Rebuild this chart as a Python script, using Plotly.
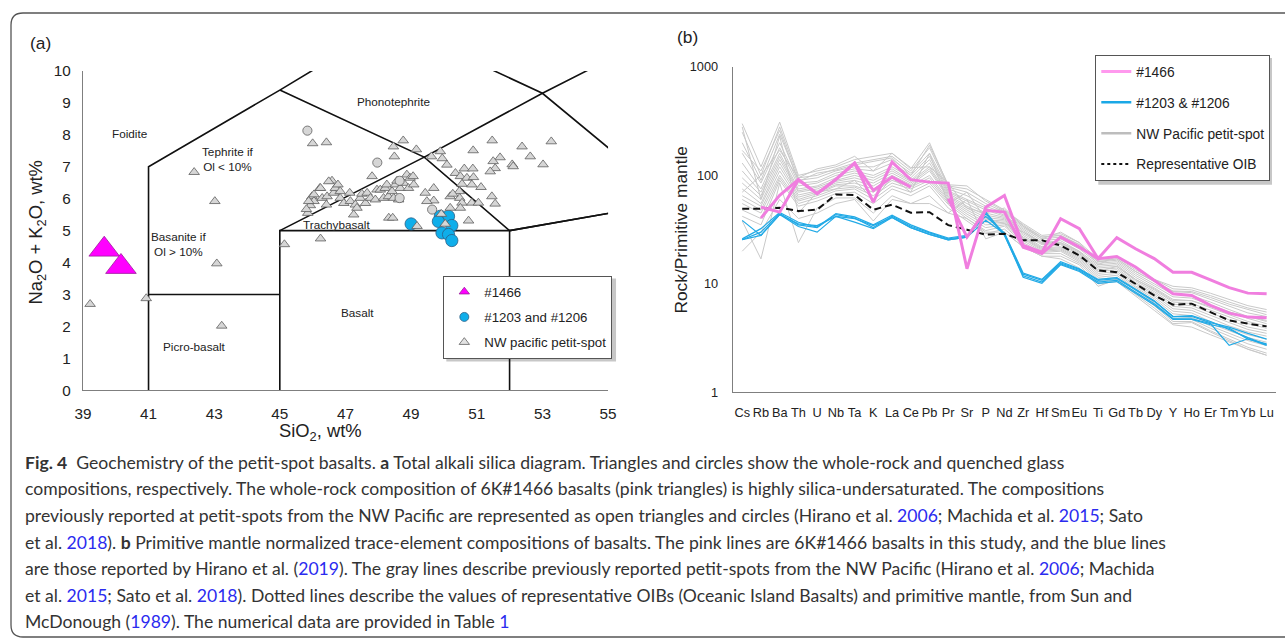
import plotly.graph_objects as go

# The photographed page is shown shrunk into an 8 px white border; lay out in target pixels.
PAGE_W, PAGE_H = 1285, 639
OFF = 8
IW, IH = PAGE_W - 2 * OFF, PAGE_H - 2 * OFF
def px(x): return (x - OFF) / IW
def py(y): return 1 - (y - OFF) / IH
K = 1.02
def fs(s): return round(s * K, 2)

FONT = "Liberation Sans, Arial, sans-serif"

# ---------------- Panel (a): TAS diagram data ----------------
sio2_1466 = [39.65, 40.16]
alk_1466 = [4.41, 3.87]

sio2_glass = [49.00, 49.89, 50.14, 49.83, 50.24, 49.94, 50.14, 50.24]
alk_glass = [5.21, 5.45, 5.45, 5.29, 5.16, 4.93, 4.88, 4.69]

sio2_nw_tri = [39.22, 40.93, 43.08, 43.23, 43.02, 42.39, 45.14, 46.24,
               46.00, 46.42, 48.76, 48.46, 48.49, 49.16, 49.62, 49.89, 49.95,
               51.47, 50.89, 52.38, 53.27, 52.63, 53.02, 51.71, 51.50, 51.56, 51.41, 52.08, 52.11,
               50.09, 50.35, 50.62, 50.88, 50.50, 50.70, 50.90, 50.55, 50.85, 51.13, 50.47, 50.48,
               50.55, 50.19, 50.27, 49.69, 49.43, 49.69, 49.48, 50.50, 50.85, 51.05, 51.46, 51.56,
               50.75, 50.19, 49.92, 50.04, 49.18, 48.32, 48.44,
               45.85, 45.93, 45.98, 46.04, 46.22, 46.29, 46.42, 46.44, 46.59, 46.64, 46.69, 46.77,
               46.84, 46.84, 46.95, 47.13, 47.15, 47.25, 47.30, 47.35, 47.45, 47.50, 47.61, 47.66,
               47.76, 47.81, 47.91, 47.96, 48.06, 48.16, 48.21, 48.26, 48.31, 48.42, 48.47, 48.52,
               48.57, 48.62, 48.67, 48.77, 48.87, 48.92, 48.97, 49.06, 49.08,
               46.24, 46.49, 46.04, 45.88, 45.81]
alk_nw_tri = [2.70, 2.88, 3.97, 2.02, 5.92, 6.83, 4.57, 4.75,
              7.73, 7.76, 7.82, 7.63, 7.32, 7.54, 7.32, 7.48, 7.26,
              7.82, 7.51, 7.63, 7.79, 7.32, 7.07, 7.29, 7.17, 6.95, 6.85, 7.07, 7.01,
              7.06, 6.80, 6.94, 6.94, 6.70, 6.65, 6.67, 6.46, 6.44, 6.36, 6.23, 6.02,
              5.87, 6.07, 6.15, 6.33, 6.18, 5.94, 5.92, 5.71, 5.87, 5.87, 6.07, 5.84,
              5.31, 5.71, 5.52, 5.21, 5.14, 5.40, 5.40,
              5.55, 5.79, 6.07, 5.92, 6.33, 6.02, 5.81, 6.07, 6.56, 6.18, 6.33, 6.44,
              6.23, 6.02, 5.86, 6.18, 5.92, 5.50, 5.81, 5.71, 6.02, 6.15, 5.86, 6.18,
              6.02, 6.70, 5.97, 6.28, 6.28, 6.02, 6.33, 6.44, 6.07, 6.23, 6.02, 6.44,
              6.56, 5.97, 6.33, 6.49, 6.75, 6.33, 6.65, 6.70, 6.44,
              6.33, 6.54, 6.13, 5.92, 5.67]

sio2_nw_circ = [45.84, 47.97, 48.65, 48.65, 49.64]
alk_nw_circ = [8.13, 7.13, 6.56, 6.02, 5.66]

# TAS field boundaries (Le Bas et al. 1986)
tas_bx = [41, 41, 45, 48.4, None, 41, 45, None, 45, 45, 52, 52, None, 45, 49.4, 52, None,
          45, 49.4, 53, 57.6, None, 48.4, 53, 57, 52, None, 52, 57]
tas_by = [0, 7, 9.4, 11.5, None, 3, 3, None, 0, 5, 5, 0, None, 5, 7.3, 5, None,
          9.4, 7.3, 9.3, 11.7, None, 11.5, 9.3, 5.9, 5, None, 5, 5.9]

field_names = ["Foidite", "Tephrite if<br>Ol &lt; 10%", "Phonotephrite", "Basanite if<br>Ol &gt; 10%",
               "Trachybasalt", "Basalt", "Picro-basalt"]
field_x = [40.43, 43.41, 48.46, 41.90, 46.73, 47.37, 42.40]
field_y = [8.05, 7.25, 9.03, 4.59, 5.20, 2.44, 1.38]

sio2_ticks = [39, 41, 43, 45, 47, 49, 51, 53, 55]
alk_ticks = [0, 1, 2, 3, 4, 5, 6, 7, 8, 9, 10]

# ---------------- Panel (b): spider diagram data ----------------
elements = ["Cs", "Rb", "Ba", "Th", "U", "Nb", "Ta", "K", "La", "Ce", "Pb", "Pr", "Sr", "P", "Nd",
            "Zr", "Hf", "Sm", "Eu", "Ti", "Gd", "Tb", "Dy", "Y", "Ho", "Er", "Tm", "Yb", "Lu"]

oib = [49.3, 49.3, 50.4, 46.9, 48.3, 66.8, 65.8, 48.3, 53.7, 45.3, 45.8, 34.8, 31.6, 28.4, 29.0,
       25.2, 25.2, 22.6, 18.3, 13.3, 12.8, 10.0, 7.83, 6.43, 6.57, 5.50, 4.61, 4.30, 4.06]

pink_1 = [None, 40.4, 65.4, 91.3, 67.8, 92.0, 129.8, 56.7, 132.7, 91.3, 86.7, 84.9, 13.8, 51.0, 65.4,
          22.6, 19.6, 39.9, 32.3, 17.1, 26.7, 21.1, 17.1, 12.8, 12.8, 10.9, 9.23, 8.22, 8.12]
pink_2 = [None, 51.0, 45.9, 91.3, 67.8, 92.0, 129.8, 72.8, 96.4, 78.0, None, 61.0, 27.0, 47.6, 45.9,
          21.8, 19.0, 27.0, 21.8, 17.1, 17.9, 14.3, 10.8, 8.12, 7.83, 6.34, 5.38, 4.94, 4.88]

blue_1 = [38.5, 28.0, 43.6, 33.8, 30.0, 41.9, 37.1, 32.3, 40.9, 33.0, 28.6, 25.5, 27.0, 44.5, 28.0,
          11.9, 10.4, 15.3, 13.3, 10.4, 10.8, 8.4, 6.57, 4.77, 4.77, 4.3, 2.71, 3.12, 2.71]
blue_2 = [25.5, 28.0, 43.6, 35.8, 34.5, 41.9, 39.9, 34.5, 40.9, 33.0, 28.6, 25.5, 27.0, 38.5, 29.0,
          12.3, 10.8, 15.6, 13.6, 10.8, 11.2, 8.8, 6.9, 5.0, 5.0, 4.4, 4.0, 3.5, 3.1]
blue_3 = [25.5, 30.0, 44.5, 35.0, 33.0, 43.5, 40.5, 33.0, 42.0, 34.0, 29.5, 26.0, 27.5, 46.0, 28.5,
          11.5, 10.1, 15.0, 13.0, 10.1, 10.5, 8.2, 6.4, 4.7, 4.7, 4.2, 3.9, 3.1, 2.8]
blue_4 = [26.0, 32.3, 45.5, 37.0, 33.4, 44.5, 41.5, 35.0, 43.0, 35.0, 30.0, 26.5, 28.0, 42.0, 29.5,
          12.6, 11.0, 16.0, 13.8, 11.0, 11.4, 9.0, 7.0, 5.0, 5.1, 4.5, 3.8, 3.2, 2.75]

gray_01 = [300, 120, 310, 100, 110, 120, 140, 150, 160, 115, 200, 80, 75, 60, 48, 36, 28, 29, 24, 17, 17.5, 13.5, 11, 9, 8.8, 7.8, 6.8, 6.0, 5.5]
gray_02 = [250, 100, 280, 95, 100, 115, 130, 140, 150, 110, 180, 78, 70, 55, 46, 34, 27, 28, 23, 16.5, 17, 13, 10.5, 8.5, 8.3, 7.2, 6.2, 5.4, 5.0]
gray_03 = [200, 90, 240, 90, 95, 110, 120, 120, 140, 105, 160, 75, 65, 52, 45, 33, 26, 27, 22, 16, 16.5, 12.5, 10, 8, 7.8, 6.8, 5.8, 5.0, 4.6]
gray_04 = [160, 85, 200, 85, 88, 105, 115, 110, 130, 100, 150, 72, 60, 50, 43, 32, 25, 26, 21, 15.5, 16, 12, 9.6, 7.6, 7.4, 6.4, 5.5, 4.8, 4.3]
gray_05 = [130, 75, 180, 80, 85, 100, 110, 100, 120, 95, 140, 70, 58, 48, 42, 31, 24, 25, 20, 15, 15.5, 11.5, 9.2, 7.2, 7.0, 6.0, 5.2, 4.5, 4.1]
gray_06 = [110, 70, 160, 75, 80, 95, 105, 95, 115, 90, 130, 68, 55, 45, 41, 30, 23.5, 24, 19.5, 14.5, 15, 11, 8.8, 6.8, 6.6, 5.7, 4.9, 4.3, 3.9]
gray_07 = [95, 65, 150, 72, 78, 90, 100, 90, 110, 88, 120, 66, 52, 43, 40, 29, 23, 23.5, 19, 14, 14.5, 10.7, 8.5, 6.5, 6.3, 5.4, 4.6, 4.0, 3.7]
gray_08 = [85, 60, 140, 70, 75, 88, 95, 85, 105, 85, 115, 64, 50, 41, 39, 28, 22, 23, 18.5, 13.5, 14, 10.3, 8.2, 6.2, 6.0, 5.1, 4.4, 3.8, 3.5]
gray_09 = [75, 55, 130, 66, 72, 85, 90, 80, 100, 82, 110, 62, 48, 39, 38, 27, 21.5, 22, 18, 13, 13.5, 10, 7.9, 5.9, 5.7, 4.8, 4.1, 3.6, 3.3]
gray_10 = [65, 52, 120, 63, 70, 82, 85, 75, 95, 80, 100, 60, 46, 37, 37, 26.5, 21, 21.5, 17.5, 12.5, 13, 9.6, 7.6, 5.6, 5.4, 4.5, 3.9, 3.4, 3.1]
gray_11 = [60, 48, 110, 60, 68, 80, 80, 70, 90, 78, 95, 58, 44, 35, 36, 26, 20.5, 21, 17, 12, 12.5, 9.3, 7.3, 5.3, 5.1, 4.3, 3.7, 3.2, 2.9]
gray_12 = [55, 45, 100, 58, 65, 75, 78, 65, 85, 75, 90, 56, 42, 33, 35, 25, 20, 20.5, 16.5, 11.5, 12, 9, 7, 5.0, 4.9, 4.1, 3.5, 3.0, 2.7]
gray_13 = [48, 40, 95, 55, 62, 72, 75, 60, 80, 70, 85, 54, 40, 31, 34, 24, 19.5, 20, 16, 11, 11.5, 8.7, 6.7, 4.8, 4.7, 3.9, 3.3, 2.8, 2.5]
gray_14 = [42, 35, 90, 52, 58, 68, 70, 55, 75, 65, 80, 50, 38, 29, 32, 23, 19, 19, 15.5, 10.5, 11, 8.3, 6.3, 4.5, 4.5, 3.7, 3.1, 2.6, 2.3]
gray_15 = [38, 17, 85, 24, 50, 62, 62, 45, 65, 55, 65, 45, 60, 26, 30, 22, 18, 18, 15, 9.5, 11, 8.0, 6.0, 4.3, 4.4, 3.6, 3.0, 2.5, 2.2]
gray_16 = [170, 110, 260, 88, 105, 112, 125, 135, 145, 100, 190, 82, 80, 58, 47, 35, 27, 28, 23, 16, 17, 13, 10.5, 8.6, 8.5, 7.5, 6.5, 5.8, 5.2]
gray_17 = [280, 60, 230, 45, 70, 75, 90, 60, 95, 70, 160, 55, 70, 40, 36, 30, 24, 24, 20, 13, 14.5, 11, 9, 7, 7, 6.2, 5.5, 5.0, 4.5]
gray_18 = [70, 100, 170, 95, 115, 125, 150, 110, 160, 118, 120, 85, 50, 45, 50, 34, 26, 30, 24, 15, 18, 14, 11, 9.5, 9.2, 8.2, 7.2, 6.3, 5.8]
gray_19 = [20, 30, 60, 40, 45, 55, 60, 38, 60, 55, 55, 45, 40, 30, 30, 22, 18, 17, 14, 10, 10.5, 7.8, 5.7, 4.2, 4.0, 3.4, 2.9, 2.5, 2.2]

gray_set = [gray_01, gray_02, gray_03, gray_04, gray_05, gray_06, gray_07, gray_08, gray_09, gray_10,
            gray_11, gray_12, gray_13, gray_14, gray_15, gray_16, gray_17, gray_18, gray_19]

spider_ticks = [1, 10, 100, 1000]

# ---------------- Figure ----------------
fig = go.Figure()

# Panel (a)
fig.add_trace(go.Scatter(x=tas_bx, y=tas_by, mode="lines", line=dict(color="#111111", width=1.6),
                         showlegend=False, hoverinfo="skip", xaxis="x", yaxis="y"))
fig.add_trace(go.Scatter(x=sio2_glass, y=alk_glass, mode="markers", showlegend=False,
                         marker=dict(symbol="circle", size=fs(12), color="#0FAEEA",
                                     line=dict(color="#2C5F86", width=0.8)), xaxis="x", yaxis="y"))
fig.add_trace(go.Scatter(x=sio2_nw_tri, y=alk_nw_tri, mode="markers", showlegend=False,
                         marker=dict(symbol="triangle-up", size=fs(9), color="#D6D6D6",
                                     line=dict(color="#5E5E5E", width=0.8)), xaxis="x", yaxis="y"))
fig.add_trace(go.Scatter(x=sio2_nw_circ, y=alk_nw_circ, mode="markers", showlegend=False,
                         marker=dict(symbol="circle", size=fs(9), color="#D6D6D6",
                                     line=dict(color="#5E5E5E", width=0.8)), xaxis="x", yaxis="y"))
fig.add_trace(go.Scatter(x=sio2_1466, y=alk_1466, mode="markers", showlegend=False,
                         marker=dict(symbol="triangle-up", size=fs(26), color="#FF00FF",
                                     line=dict(color="#9B1C9B", width=0.8)), xaxis="x", yaxis="y"))

# legend entries for panel (a)
leg_a = [("#1466", "triangle-up", "#FF00FF", "#9B1C9B"),
         ("#1203 and #1206", "circle", "#0FAEEA", "#2C5F86"),
         ("NW pacific petit-spot", "triangle-up", "#E2E2E2", "#5E5E5E")]
for i, (nm, sym, col, lc) in enumerate(leg_a):
    fig.add_trace(go.Scatter(x=[None], y=[None], mode="markers", name=nm, legend="legend",
                             legendgroup="a%d" % i,
                             marker=dict(symbol=sym, size=9, color=col, line=dict(color=lc, width=0.8)),
                             xaxis="x", yaxis="y"))

# Panel (b)
for g in gray_set:
    fig.add_trace(go.Scatter(x=elements, y=g, mode="lines", showlegend=False, hoverinfo="skip",
                             line=dict(color="#C9C9C9", width=1), xaxis="x2", yaxis="y2"))
for b in [blue_1, blue_2, blue_3, blue_4]:
    fig.add_trace(go.Scatter(x=elements, y=b, mode="lines", showlegend=False,
                             line=dict(color="#22AAE6", width=1.2), xaxis="x2", yaxis="y2"))
fig.add_trace(go.Scatter(x=elements, y=oib, mode="lines", showlegend=False,
                         line=dict(color="#111111", width=2, dash="7px,4px"), xaxis="x2", yaxis="y2"))
for p in [pink_1, pink_2]:
    fig.add_trace(go.Scatter(x=elements, y=p, mode="lines", showlegend=False, connectgaps=False,
                             line=dict(color="#F07EDF", width=3), xaxis="x2", yaxis="y2"))

leg_b = [("#1466", "#FF99EE", 3, "solid"),
         ("#1203 &amp; #1206", "#1AA8E6", 2.5, "solid"),
         ("NW Pacific petit-spot", "#BDBDBD", 2.5, "solid"),
         ("Representative OIB", "#111111", 2, "dot")]
for i, (nm, col, wd, ds) in enumerate(leg_b):
    fig.add_trace(go.Scatter(x=[None], y=[None], mode="lines", name=nm, legend="legend2",
                             legendgroup="b%d" % i,
                             line=dict(color=col, width=wd, dash=ds), xaxis="x2", yaxis="y2"))

axis_common = dict(showgrid=False, zeroline=False, showline=True, linecolor="#7F7F7F", linewidth=1.3,
                   ticks="")

annotations = []
for nm, fx, fy in zip(field_names, field_x, field_y):
    annotations.append(dict(x=fx, y=fy, xref="x", yref="y", text=nm, showarrow=False,
                            font=dict(family=FONT, size=fs(11.5), color="#222222"), align="center"))

def ann(text, x, y, size, angle=0, xanchor="center", color="#222222", family=FONT):
    annotations.append(dict(x=px(x), y=py(y), xref="paper", yref="paper", text=text, showarrow=False,
                            textangle=angle, xanchor=xanchor, yanchor="middle",
                            font=dict(family=family, size=fs(size), color=color)))

ann("(a)", 40, 42, 17)
ann("(b)", 688, 36, 17)
ann("SiO<sub>2</sub>, wt%", 320, 432, 18)
ann("Na<sub>2</sub>O + K<sub>2</sub>O, wt%", 36, 232, 18, angle=-90)
ann("Rock/Primitive mantle", 681, 229, 17, angle=-90)

LINK = "#2B2BEF"
def yr(t): return "<span style='color:%s'>%s</span>" % (LINK, t)
caption = [
    "<b>Fig. 4</b>  Geochemistry of the petit-spot basalts. <b>a</b> Total alkali silica diagram. Triangles and circles show the whole-rock and quenched glass",
    "compositions, respectively. The whole-rock composition of 6K#1466 basalts (pink triangles) is highly silica-undersaturated. The compositions",
    "previously reported at petit-spots from the NW Pacific are represented as open triangles and circles (Hirano et al. %s; Machida et al. %s; Sato" % (yr("2006"), yr("2015")),
    "et al. %s). <b>b</b> Primitive mantle normalized trace-element compositions of basalts. The pink lines are 6K#1466 basalts in this study, and the blue lines" % yr("2018"),
    "are those reported by Hirano et al. (%s). The gray lines describe previously reported petit-spots from the NW Pacific (Hirano et al. %s; Machida" % (yr("2019"), yr("2006")),
    "et al. %s; Sato et al. %s). Dotted lines describe the values of representative OIBs (Oceanic Island Basalts) and primitive mantle, from Sun and" % (yr("2015"), yr("2018")),
    "McDonough (%s). The numerical data are provided in Table %s" % (yr("1989"), yr("1")),
]
cap_y = [462, 488.5, 515, 542, 568, 595, 621]
for t, cy in zip(caption, cap_y):
    ann(t, 22, cy, 17.25, xanchor="left", color="#333333", family="Lato, Liberation Sans, sans-serif")

# frame around the figure (rounded corners on the left)
def P(x, y): return "%.5f %.5f" % (px(x), py(y))
frame_path = ("M " + P(1300, 12) + " L " + P(22, 12) + " Q " + P(10, 12) + " " + P(10, 24) +
              " L " + P(10, 625) + " Q " + P(10, 637) + " " + P(22, 637) + " L " + P(1300, 637))
shapes = [dict(type="path", path=frame_path, xref="paper", yref="paper",
               line=dict(color="#555555", width=1.3))]
# soft legend shadows
shapes.append(dict(type="rect", xref="paper", yref="paper", x0=px(446), x1=px(616), y0=py(361), y1=py(278),
                   line=dict(width=0), fillcolor="rgba(0,0,0,0.22)", layer="below"))
shapes.append(dict(type="rect", xref="paper", yref="paper", x0=px(1099), x1=px(1273), y0=py(184), y1=py(57),
                   line=dict(width=0), fillcolor="rgba(0,0,0,0.22)", layer="below"))

tf15 = dict(family=FONT, size=fs(15), color="#222222")
tf12 = dict(family=FONT, size=fs(12.5), color="#222222")

fig.update_layout(
    width=PAGE_W, height=PAGE_H, margin=dict(l=0, r=0, t=0, b=0, pad=0),
    paper_bgcolor="white", plot_bgcolor="rgba(0,0,0,0)",
    font=dict(family=FONT, color="#222222"),
    xaxis=dict(axis_common, domain=[px(82), px(608)], range=[39, 55], tickvals=sio2_ticks,
               tickfont=tf15, ticklabelstandoff=9, anchor="y"),
    yaxis=dict(axis_common, domain=[py(390), py(70)], range=[0, 10], tickvals=alk_ticks,
               tickfont=tf15, ticklabelstandoff=8, anchor="x"),
    xaxis2=dict(axis_common, domain=[px(733), min(1.0, px(1280))], type="category", categoryorder="array",
                categoryarray=elements, range=[-0.5, 28.5], tickangle=0,
                tickfont=tf12, ticklabelstandoff=8, anchor="y2"),
    yaxis2=dict(axis_common, domain=[py(392), py(66)], type="log", range=[0, 3], tickvals=spider_ticks,
                ticktext=[str(v) for v in spider_ticks],
                tickfont=tf12, ticklabelstandoff=11, anchor="x2"),
    legend=dict(x=px(443), y=py(275), xanchor="left", yanchor="top", bgcolor="white",
                bordercolor="#555555", borderwidth=1, font=dict(family=FONT, size=fs(13), color="#222222"),
                tracegroupgap=5, itemwidth=30),
    legend2=dict(x=px(1096), y=py(54), xanchor="left", yanchor="top", bgcolor="white",
                 bordercolor="#555555", borderwidth=1, font=dict(family=FONT, size=fs(13.5), color="#222222"),
                 tracegroupgap=10, itemwidth=30),
    annotations=annotations,
    shapes=shapes,
)

fig.write_html("out.html", config={"displayModeBar": False},
               post_script="document.body.style.margin='0px';document.body.style.padding='0px';"
                           "document.body.style.overflow='hidden';")
